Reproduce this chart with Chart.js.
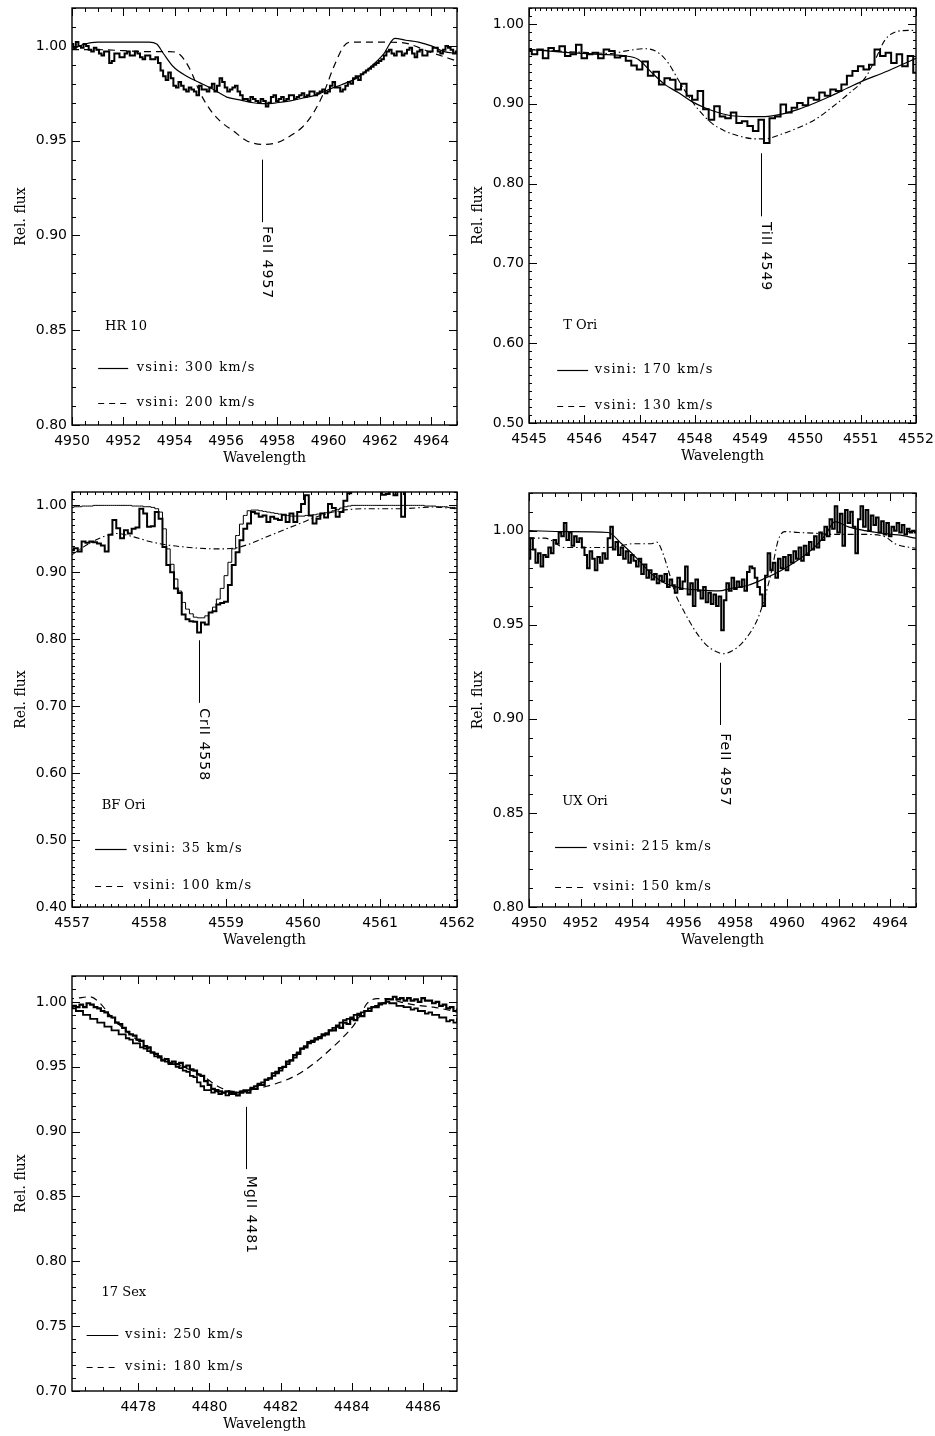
<!DOCTYPE html>
<html>
<head>
<meta charset="utf-8">
<script src="https://cdn.jsdelivr.net/npm/chart.js@4/dist/chart.umd.min.js"></script>
<style>
  body { margin: 0; background: #fff; overflow: hidden; }
  #page { position: relative; width: 935px; height: 1436px; background: #fff; }
  #page canvas { position: absolute; }
</style>
</head>
<body>
<div id="page">
  <canvas id="hr10"></canvas>
  <canvas id="tori"></canvas>
  <canvas id="bfori"></canvas>
  <canvas id="uxori"></canvas>
  <canvas id="sex17"></canvas>
</div>
<script>
const SANS = "'DejaVu Sans', Verdana, sans-serif";
const SERIF = "'DejaVu Serif', serif";

// ---------- HR 10 (FeII 4957) ----------
const hr10XTicks = [4950, 4952, 4954, 4956, 4958, 4960, 4962, 4964];
const hr10YTicks = [0.80, 0.85, 0.90, 0.95, 1.00];
const hr10ObsStart = 4950.0, hr10ObsStep = 0.1;
const hr10Obs = [1.001,0.999,1.002,1.000,0.999,1.001,1.000,0.998,0.997,0.999,
  0.998,0.996,0.995,0.997,0.997,0.991,0.992,0.996,0.996,0.994,
  0.994,0.996,0.997,0.995,0.995,0.997,0.996,0.994,0.993,0.995,
  0.995,0.993,0.993,0.994,0.991,0.987,0.984,0.982,0.986,0.983,
  0.979,0.978,0.981,0.979,0.977,0.976,0.978,0.977,0.976,0.974,
  0.979,0.977,0.977,0.976,0.978,0.980,0.976,0.979,0.983,0.981,
  0.978,0.976,0.977,0.978,0.979,0.976,0.974,0.972,0.972,0.971,
  0.973,0.972,0.971,0.970,0.972,0.971,0.968,0.970,0.973,0.974,
  0.971,0.972,0.973,0.971,0.972,0.974,0.974,0.972,0.973,0.974,
  0.975,0.973,0.974,0.976,0.976,0.974,0.975,0.976,0.977,0.975,
  0.976,0.979,0.981,0.978,0.978,0.976,0.977,0.979,0.981,0.980,
  0.983,0.984,0.982,0.985,0.986,0.987,0.988,0.989,0.990,0.991,
  0.992,0.993,0.995,0.997,0.998,0.996,0.995,0.997,0.997,0.995,
  0.996,0.998,0.999,0.996,0.994,0.997,0.998,0.995,0.995,0.997,
  0.997,0.999,0.999,0.997,0.996,0.998,1.000,0.999,0.998,0.996,
  0.997];
const hr10Fit300Wave = [4950.0,4950.5,4951.0,4952.0,4953.0,4953.3,4953.56,4953.95,4954.47,4954.99,
  4955.51,4956.03,4956.54,4957.06,4957.45,4957.97,4958.5,4959.0,4959.5,4960.0,
  4960.5,4961.08,4961.6,4962.13,4962.58,4963.0,4963.5,4964.0,4964.5,4965.0];
const hr10Fit300 = [0.998,1.001,1.002,1.002,1.002,1.001,0.996,0.989,0.984,0.9805,
  0.977,0.973,0.9715,0.970,0.9695,0.970,0.971,0.9725,0.974,0.977,
  0.9795,0.983,0.9885,0.9955,1.004,1.003,1.002,1.000,0.997,0.996];
const hr10Fit200Wave = [4950.0,4951.0,4952.0,4953.0,4953.8,4954.2,4954.6,4955.0,4955.4,4955.8,
  4956.3,4956.8,4957.45,4958.0,4958.5,4959.0,4959.4,4959.8,4960.2,4960.6,
  4960.85,4961.5,4962.8,4964.0,4965.0];
const hr10Fit200 = [0.998,0.998,0.9975,0.997,0.997,0.9955,0.9876,0.975,0.966,0.960,
  0.955,0.950,0.948,0.949,0.9525,0.9575,0.9645,0.975,0.989,1.000,
  1.002,1.002,1.0018,0.9965,0.992];

// ---------- T Ori (TiII 4549) ----------
const toriXTicks = [4545, 4546, 4547, 4548, 4549, 4550, 4551, 4552];
const toriYTicks = [0.50, 0.60, 0.70, 0.80, 0.90, 1.00];
const toriObsStart = 4545.0, toriObsStep = 0.1;
const toriObs = [0.966,0.962,0.968,0.957,0.970,0.966,0.972,0.960,0.962,0.974,
  0.957,0.962,0.964,0.957,0.968,0.966,0.958,0.960,0.954,0.948,
  0.943,0.953,0.935,0.940,0.924,0.932,0.930,0.918,0.925,0.910,
  0.905,0.916,0.893,0.880,0.897,0.884,0.882,0.889,0.876,0.878,
  0.872,0.866,0.880,0.851,0.882,0.884,0.899,0.889,0.895,0.901,
  0.898,0.9075,0.905,0.914,0.910,0.918,0.916,0.924,0.935,0.941,
  0.947,0.943,0.949,0.968,0.960,0.964,0.951,0.962,0.947,0.960,
  0.939];
const toriFit170Wave = [4545.0,4545.65,4546.25,4546.73,4546.98,4547.22,4547.46,4547.70,4547.94,4548.18,
  4548.42,4548.66,4548.97,4549.27,4549.57,4549.87,4550.17,4550.47,4550.77,4551.08,
  4551.38,4551.68,4552.0];
const toriFit170 = [0.968,0.9645,0.962,0.960,0.9555,0.939,0.924,0.914,0.903,0.895,
  0.889,0.885,0.884,0.884,0.887,0.893,0.901,0.910,0.920,0.930,
  0.938,0.947,0.957];
const toriFit130Wave = [4545.0,4545.95,4546.49,4546.73,4547.10,4547.34,4547.52,4547.70,4547.88,4548.06,
  4548.30,4548.54,4548.78,4549.09,4549.27,4549.57,4549.87,4550.17,4550.47,4550.77,
  4551.08,4551.26,4551.44,4551.68,4551.92,4552.0];
const toriFit130 = [0.968,0.9645,0.963,0.966,0.969,0.964,0.951,0.930,0.910,0.893,
  0.876,0.866,0.860,0.856,0.856,0.862,0.870,0.880,0.895,0.912,
  0.9325,0.955,0.980,0.991,0.992,0.991];

// ---------- BF Ori (CrII 4558) ----------
const bfXTicks = [4557, 4558, 4559, 4560, 4561, 4562];
const bfYTicks = [0.40, 0.50, 0.60, 0.70, 0.80, 0.90, 1.00];
const bfStart = 4557.0, bfStep = 0.05;
const bfObs = [0.933,0.936,0.931,0.946,0.944,0.946,0.945,0.943,0.940,0.931,
  0.956,0.978,0.966,0.951,0.963,0.958,0.965,0.967,0.995,0.988,
  0.968,0.969,0.990,0.980,0.938,0.911,0.900,0.876,0.869,0.837,
  0.830,0.827,0.826,0.810,0.825,0.822,0.840,0.842,0.852,0.854,
  0.856,0.881,0.911,0.930,0.948,0.965,0.973,0.990,0.988,0.983,
  0.985,0.975,0.983,0.980,0.978,0.986,0.975,0.988,0.975,0.990,
  1.002,1.015,0.985,0.973,0.980,0.988,0.982,1.002,0.996,0.983,
  0.990,1.007,1.018,1.030,1.035,1.028,1.040,1.035,1.030,1.025,
  1.030,1.016,1.017,1.025,1.015,1.030,0.983,1.030,1.035,1.040,
  1.036,1.042,1.038,1.045,1.040,1.036,1.044,1.040,1.046,1.042,
  1.040];
const bfFit35 = [0.997,0.998,0.998,0.999,0.999,0.999,1.000,1.000,1.000,1.000,
  1.000,1.000,1.000,1.000,1.000,1.000,0.999,0.999,0.999,0.998,
  0.998,0.997,0.995,0.990,0.965,0.935,0.912,0.890,0.872,0.855,
  0.845,0.838,0.833,0.832,0.832,0.835,0.840,0.848,0.860,0.876,
  0.895,0.915,0.935,0.955,0.972,0.985,0.992,0.993,0.993,0.992,
  0.991,0.990,0.989,0.988,0.987,0.986,0.985,0.984,0.984,0.984,
  0.984,0.985,0.985,0.986,0.987,0.988,0.989,0.990,0.992,0.994,
  0.996,0.998,0.999,1.000,1.000,1.000,1.000,1.000,1.000,1.000,
  1.000,1.000,1.000,1.000,1.000,1.000,1.000,1.000,1.000,1.000,
  1.000,1.000,0.999,0.999,0.999,0.998,0.998,0.998,0.997,0.997,
  0.996];
const bfFit100Wave = [4557.0,4557.15,4557.36,4557.58,4557.80,4558.01,4558.23,4558.45,4558.66,4558.88,
  4559.10,4559.27,4559.53,4559.74,4559.96,4560.18,4560.39,4560.61,4560.83,4561.26,
  4561.69,4562.0];
const bfFit100 = [0.926,0.938,0.951,0.958,0.953,0.946,0.941,0.938,0.936,0.935,
  0.936,0.941,0.953,0.963,0.973,0.983,0.990,0.994,0.995,0.995,
  0.9975,0.995];

// ---------- UX Ori (FeII 4957) ----------
const uxXTicks = [4950, 4952, 4954, 4956, 4958, 4960, 4962, 4964];
const uxYTicks = [0.80, 0.85, 0.90, 0.95, 1.00];
const uxObsStart = 4950.0, uxObsStep = 0.1;
const uxObs = [0.985,0.996,0.990,0.983,0.988,0.981,0.987,0.986,0.991,0.988,
  0.995,0.993,0.999,0.997,1.004,0.995,0.999,0.992,0.997,0.994,
  0.996,0.991,0.987,0.980,0.989,0.985,0.979,0.986,0.983,0.988,
  0.985,0.996,1.002,0.990,0.994,0.987,0.991,0.985,0.989,0.983,
  0.987,0.984,0.981,0.985,0.977,0.982,0.975,0.979,0.974,0.977,
  0.972,0.976,0.973,0.977,0.970,0.974,0.971,0.967,0.975,0.969,
  0.973,0.981,0.966,0.972,0.960,0.974,0.968,0.964,0.970,0.962,
  0.967,0.961,0.966,0.960,0.965,0.947,0.963,0.972,0.968,0.975,
  0.969,0.973,0.970,0.974,0.968,0.978,0.981,0.980,0.975,0.970,
  0.966,0.960,0.976,0.988,0.979,0.983,0.975,0.985,0.980,0.986,
  0.979,0.987,0.983,0.989,0.985,0.991,0.984,0.992,0.987,0.994,
  0.990,0.997,0.991,0.999,0.995,1.002,0.997,1.006,1.001,1.013,
  0.999,1.009,0.992,1.011,1.004,1.010,1.002,0.988,1.006,1.013,
  1.002,1.011,1.000,1.008,1.003,1.007,0.999,1.005,0.998,1.004,
  0.997,1.002,1.000,1.004,0.999,1.003,0.998,1.001,0.999,1.000,
  0.999];
const uxFit215Wave = [4950.0,4951.4,4953.07,4953.59,4954.24,4954.75,4955.27,4955.92,4956.56,4957.34,
  4957.86,4958.50,4959.15,4959.79,4960.44,4961.09,4961.5,4961.86,4962.38,4963.02,
  4963.67,4964.31,4965.0];
const uxFit215 = [1.000,0.9995,0.999,0.993,0.9845,0.977,0.972,0.9694,0.9685,0.968,
  0.9694,0.971,0.9747,0.979,0.9845,0.9915,0.998,1.0048,1.002,1.000,
  0.9986,0.9977,0.996];
const uxFit150Wave = [4950.0,4950.62,4951.40,4952.95,4953.59,4953.98,4954.75,4954.95,4955.14,4955.40,
  4955.66,4956.05,4956.43,4956.82,4957.21,4957.53,4957.86,4958.24,4958.63,4958.89,
  4959.15,4959.41,4959.66,4959.92,4960.44,4961.09,4961.73,4963.02,4963.80,4964.19,
  4964.99];
const uxFit150 = [0.996,0.996,0.991,0.991,0.992,0.993,0.993,0.994,0.9898,0.979,
  0.967,0.956,0.947,0.940,0.936,0.9346,0.936,0.940,0.947,0.954,
  0.965,0.979,0.995,0.9995,0.999,0.9986,0.998,0.998,0.9968,0.993,
  0.9906];

// ---------- 17 Sex (MgII 4481) ----------
const sexXTicks = [4478, 4480, 4482, 4484, 4486];
const sexYTicks = [0.70, 0.75, 0.80, 0.85, 0.90, 0.95, 1.00];
const sexStart = 4476.0, sexStep = 0.1;
const sexObsA = [0.998,0.996,0.997,0.996,0.998,0.996,0.999,0.998,0.996,0.995,
  0.993,0.992,0.989,0.988,0.984,0.983,0.980,0.977,0.975,0.974,
  0.971,0.970,0.966,0.965,0.961,0.960,0.958,0.955,0.956,0.953,
  0.954,0.952,0.953,0.950,0.951,0.948,0.947,0.944,0.943,0.939,
  0.936,0.933,0.932,0.931,0.930,0.931,0.929,0.930,0.928,0.930,
  0.931,0.930,0.933,0.933,0.936,0.936,0.940,0.941,0.945,0.946,
  0.949,0.950,0.954,0.955,0.959,0.960,0.964,0.965,0.969,0.970,
  0.972,0.972,0.975,0.975,0.978,0.978,0.981,0.980,0.984,0.983,
  0.987,0.986,0.990,0.989,0.993,0.993,0.996,0.996,0.999,0.999,
  1.002,1.002,1.004,1.002,1.003,1.001,1.003,1.001,1.002,1.000,
  1.003,1.001,1.001,0.999,1.000,0.997,0.998,0.995,0.996,0.993,
  0.994];
const sexObsB = [0.997,0.996,0.995,0.993,0.993,0.990,0.990,0.987,0.987,0.984,
  0.984,0.981,0.981,0.978,0.978,0.975,0.975,0.972,0.971,0.968,
  0.968,0.965,0.964,0.962,0.961,0.958,0.957,0.955,0.954,0.952,
  0.952,0.950,0.949,0.947,0.946,0.943,0.942,0.938,0.935,0.932,
  0.932,0.930,0.931,0.929,0.930,0.928,0.930,0.929,0.930,0.931,
  0.932,0.932,0.934,0.935,0.937,0.938,0.940,0.941,0.943,0.945,
  0.947,0.950,0.952,0.955,0.957,0.961,0.964,0.966,0.968,0.969,
  0.971,0.973,0.974,0.976,0.978,0.980,0.982,0.984,0.986,0.987,
  0.988,0.990,0.991,0.992,0.993,0.995,0.996,0.997,0.998,0.999,
  1.000,0.999,0.999,0.997,0.997,0.996,0.996,0.994,0.995,0.993,
  0.993,0.991,0.992,0.990,0.990,0.988,0.988,0.985,0.986,0.984,
  0.987];
const sexFit180Wave = [4476.0,4476.3,4476.65,4476.93,4477.2,4477.6,4478.0,4478.5,4479.0,4479.74,
  4480.3,4480.67,4481.23,4481.61,4482.08,4482.54,4483.0,4483.48,4483.76,4484.05,
  4484.24,4484.42,4484.7,4485.0,4485.35,4485.82,4486.29,4487.0];
const sexFit180 = [1.002,1.003,1.004,0.999,0.990,0.979,0.970,0.960,0.953,0.944,
  0.934,0.931,0.9325,0.935,0.939,0.945,0.954,0.9656,0.973,0.982,
  0.990,0.9987,1.0025,1.0025,1.000,0.9975,0.996,0.992];

// ---------- helpers ----------
function pairs(xs, ys) { return ys.map((y, i) => ({ x: xs[i], y: y })); }
function onGrid(start, step, ys) { return ys.map((y, i) => ({ x: +(start + i * step).toFixed(3), y: y })); }

function obsSet(data, width) {
  return { data: data, borderColor: '#000', borderWidth: width, stepped: 'middle', pointRadius: 0, fill: false };
}
function fitSet(data, width, dash) {
  return { data: data, borderColor: '#000', borderWidth: width, borderDash: dash || [],
    cubicInterpolationMode: 'monotone', pointRadius: 0, fill: false };
}

function minorValues(min, max, step) {
  const out = [];
  for (let k = Math.ceil(min / step - 1e-6); k <= Math.floor(max / step + 1e-6); k++) out.push(k * step);
  return out;
}
function isMajor(v, ticks, step) { return ticks.some(t => Math.abs(t - v) < step * 1e-3); }

const DASH = [7, 5];
const DASHDOT = [6, 3, 1.5, 3];

// frame, inward ticks, line id, star name and legend
function framePlugin(p) {
  return {
    id: 'frame',
    afterDatasetsDraw(chart) {
      const ctx = chart.ctx, a = chart.chartArea;
      const xs = chart.scales.x, ys = chart.scales.y;
      const X = v => xs.getPixelForValue(v), Y = v => ys.getPixelForValue(v);
      ctx.save();
      ctx.strokeStyle = '#000';
      ctx.fillStyle = '#000';
      ctx.lineWidth = 1.4;
      ctx.strokeRect(a.left, a.top, a.right - a.left, a.bottom - a.top);

      ctx.lineWidth = 1;
      ctx.beginPath();
      minorValues(p.xMin, p.xMax, p.xMinor).forEach(v => {
        const px = Math.round(X(v)) + 0.5;
        const len = isMajor(v, p.xTicks, p.xMinor) ? 8 : p.minorLen;
        ctx.moveTo(px, a.bottom); ctx.lineTo(px, a.bottom - len);
        ctx.moveTo(px, a.top); ctx.lineTo(px, a.top + len);
      });
      minorValues(p.yMin, p.yMax, p.yMinor).forEach(v => {
        const py = Math.round(Y(v)) + 0.5;
        const len = isMajor(v, p.yTicks, p.yMinor) ? 8 : p.minorLen;
        ctx.moveTo(a.left, py); ctx.lineTo(a.left + len, py);
        ctx.moveTo(a.right, py); ctx.lineTo(a.right - len, py);
      });
      ctx.stroke();

      // line identification
      const mx = Math.round(X(p.mark.x)) + 0.5;
      ctx.beginPath();
      ctx.moveTo(mx, Y(p.mark.y1)); ctx.lineTo(mx, Y(p.mark.y2));
      ctx.stroke();
      ctx.save();
      ctx.translate(mx + 4, Y(p.mark.ty));
      ctx.rotate(Math.PI / 2);
      ctx.font = '14px ' + SANS;
      ctx.letterSpacing = '1px';
      ctx.textAlign = 'left';
      ctx.textBaseline = 'middle';
      ctx.fillText(p.mark.text, 0, 0);
      ctx.restore();

      // star name
      ctx.font = '13px ' + SERIF;
      ctx.textAlign = 'left';
      ctx.textBaseline = 'middle';
      ctx.fillText(p.name.text, X(p.name.x), Y(p.name.y));

      // legend
      ctx.letterSpacing = '1.3px';
      p.legend.forEach(it => {
        const ly = Math.round(Y(it.y)) + 0.5;
        ctx.lineWidth = 1.2;
        ctx.setLineDash(it.dash);
        ctx.beginPath();
        ctx.moveTo(X(it.x1), ly); ctx.lineTo(X(it.x2), ly);
        ctx.stroke();
        ctx.setLineDash([]);
        ctx.textBaseline = 'alphabetic';
        ctx.fillText(it.text, X(it.tx), ly + 2);
      });
      ctx.restore();
    }
  };
}

function makePanel(id, p) {
  const cv = document.getElementById(id);
  const w = p.box.r - p.box.l + 72 + p.padR;
  const h = p.box.b - p.box.t + 53;
  cv.width = w; cv.height = h;
  cv.style.width = w + 'px'; cv.style.height = h + 'px';
  cv.style.left = (p.box.l - 72) + 'px';
  cv.style.top = (p.box.t - 8) + 'px';

  new Chart(cv, {
    type: 'line',
    data: { datasets: p.datasets },
    options: {
      responsive: false,
      animation: false,
      events: [],
      layout: { padding: { left: 0, top: 8, right: p.padR, bottom: 0 } },
      plugins: { legend: { display: false }, tooltip: { enabled: false } },
      scales: {
        x: {
          type: 'linear', min: p.xMin, max: p.xMax,
          afterBuildTicks: s => { s.ticks = p.xTicks.map(v => ({ value: v })); },
          afterFit: s => { s.height = 45; s.paddingLeft = 0; s.paddingRight = 0; },
          grid: { display: false, drawTicks: false },
          border: { display: false },
          ticks: { autoSkip: false, maxRotation: 0, padding: 8, color: '#000',
            font: { family: SANS, size: 14 }, callback: v => v.toFixed(0) },
          title: { display: true, text: 'Wavelength', color: '#000',
            font: { family: SERIF, size: 14 }, padding: { top: 0, bottom: 3 } }
        },
        y: {
          type: 'linear', min: p.yMin, max: p.yMax,
          afterBuildTicks: s => { s.ticks = p.yTicks.map(v => ({ value: v })); },
          afterFit: s => { s.width = 72; s.paddingTop = 0; s.paddingBottom = 0; },
          grid: { display: false, drawTicks: false },
          border: { display: false },
          ticks: { autoSkip: false, padding: 5, color: '#000',
            font: { family: SANS, size: 14 }, callback: v => v.toFixed(2) },
          title: { display: true, text: 'Rel. flux', color: '#000',
            font: { family: SERIF, size: 14 }, padding: { top: 13, bottom: 0 } }
        }
      }
    },
    plugins: [framePlugin(p)]
  });
}

makePanel('hr10', {
  box: { l: 72, t: 8, r: 457, b: 425 }, padR: 13,
  xMin: 4950, xMax: 4965, yMin: 0.80, yMax: 1.02,
  xTicks: hr10XTicks, yTicks: hr10YTicks, xMinor: 0.5, yMinor: 0.01, minorLen: 4,
  datasets: [
    obsSet(onGrid(hr10ObsStart, hr10ObsStep, hr10Obs), 2),
    fitSet(pairs(hr10Fit300Wave, hr10Fit300), 1.2),
    fitSet(pairs(hr10Fit200Wave, hr10Fit200), 1.2, DASH)
  ],
  mark: { x: 4957.4, y1: 0.940, y2: 0.907, ty: 0.905, text: 'FeII 4957' },
  name: { text: 'HR 10', x: 4951.29, y: 0.8517 },
  legend: [
    { x1: 4951.02, x2: 4952.19, y: 0.8302, tx: 4952.52, text: 'vsini: 300 km/s', dash: [] },
    { x1: 4951.02, x2: 4952.19, y: 0.8115, tx: 4952.52, text: 'vsini: 200 km/s', dash: [6, 5] }
  ]
});

makePanel('tori', {
  box: { l: 529, t: 8, r: 916, b: 423 }, padR: 19,
  xMin: 4545, xMax: 4552, yMin: 0.50, yMax: 1.02,
  xTicks: toriXTicks, yTicks: toriYTicks, xMinor: 0.1, yMinor: 0.01, minorLen: 3,
  datasets: [
    obsSet(onGrid(toriObsStart, toriObsStep, toriObs), 2),
    fitSet(pairs(toriFit170Wave, toriFit170), 1.2),
    fitSet(pairs(toriFit130Wave, toriFit130), 1.1, DASHDOT)
  ],
  mark: { x: 4549.19, y1: 0.838, y2: 0.759, ty: 0.752, text: 'TiII 4549' },
  name: { text: 'T Ori', x: 4545.62, y: 0.622 },
  legend: [
    { x1: 4545.51, x2: 4546.07, y: 0.5668, tx: 4546.19, text: 'vsini: 170 km/s', dash: [] },
    { x1: 4545.51, x2: 4546.07, y: 0.5208, tx: 4546.19, text: 'vsini: 130 km/s', dash: [6, 5] }
  ]
});

makePanel('bfori', {
  box: { l: 72, t: 492, r: 457, b: 907 }, padR: 20,
  xMin: 4557, xMax: 4562, yMin: 0.40, yMax: 1.02,
  xTicks: bfXTicks, yTicks: bfYTicks, xMinor: 0.1, yMinor: 0.01, minorLen: 3,
  datasets: [
    obsSet(onGrid(bfStart, bfStep, bfObs), 2),
    obsSet(onGrid(bfStart, bfStep, bfFit35), 1),
    fitSet(pairs(bfFit100Wave, bfFit100), 1.1, DASHDOT)
  ],
  mark: { x: 4558.65, y1: 0.7985, y2: 0.705, ty: 0.697, text: 'CrII 4558' },
  name: { text: 'BF Ori', x: 4557.385, y: 0.5518 },
  legend: [
    { x1: 4557.30, x2: 4557.71, y: 0.4861, tx: 4557.80, text: 'vsini: 35 km/s', dash: [] },
    { x1: 4557.30, x2: 4557.71, y: 0.4313, tx: 4557.80, text: 'vsini: 100 km/s', dash: [6, 5] }
  ]
});

makePanel('uxori', {
  box: { l: 529, t: 493, r: 916, b: 907 }, padR: 13,
  xMin: 4950, xMax: 4965, yMin: 0.80, yMax: 1.02,
  xTicks: uxXTicks, yTicks: uxYTicks, xMinor: 0.5, yMinor: 0.01, minorLen: 4,
  datasets: [
    obsSet(onGrid(uxObsStart, uxObsStep, uxObs), 2),
    fitSet(pairs(uxFit215Wave, uxFit215), 1.2),
    fitSet(pairs(uxFit150Wave, uxFit150), 1.1, DASHDOT)
  ],
  mark: { x: 4957.4, y1: 0.9298, y2: 0.8967, ty: 0.8923, text: 'FeII 4957' },
  name: { text: 'UX Ori', x: 4951.29, y: 0.8558 },
  legend: [
    { x1: 4951.01, x2: 4952.24, y: 0.832, tx: 4952.49, text: 'vsini: 215 km/s', dash: [] },
    { x1: 4951.01, x2: 4952.24, y: 0.8107, tx: 4952.49, text: 'vsini: 150 km/s', dash: [6, 5] }
  ]
});

makePanel('sex17', {
  box: { l: 72, t: 976, r: 457, b: 1391 }, padR: 13,
  xMin: 4476.14, xMax: 4486.95, yMin: 0.70, yMax: 1.02,
  xTicks: sexXTicks, yTicks: sexYTicks, xMinor: 0.5, yMinor: 0.01, minorLen: 4,
  datasets: [
    obsSet(onGrid(sexStart, sexStep, sexObsA), 2.2),
    obsSet(onGrid(sexStart, sexStep, sexObsB), 1.8),
    fitSet(pairs(sexFit180Wave, sexFit180), 1.2, DASH)
  ],
  mark: { x: 4481.02, y1: 0.9191, y2: 0.8711, ty: 0.8659, text: 'MgII 4481' },
  name: { text: '17 Sex', x: 4476.97, y: 0.7761 },
  legend: [
    { x1: 4476.55, x2: 4477.44, y: 0.7432, tx: 4477.63, text: 'vsini: 250 km/s', dash: [] },
    { x1: 4476.55, x2: 4477.44, y: 0.7187, tx: 4477.63, text: 'vsini: 180 km/s', dash: [6, 5] }
  ]
});
</script>
</body>
</html>
